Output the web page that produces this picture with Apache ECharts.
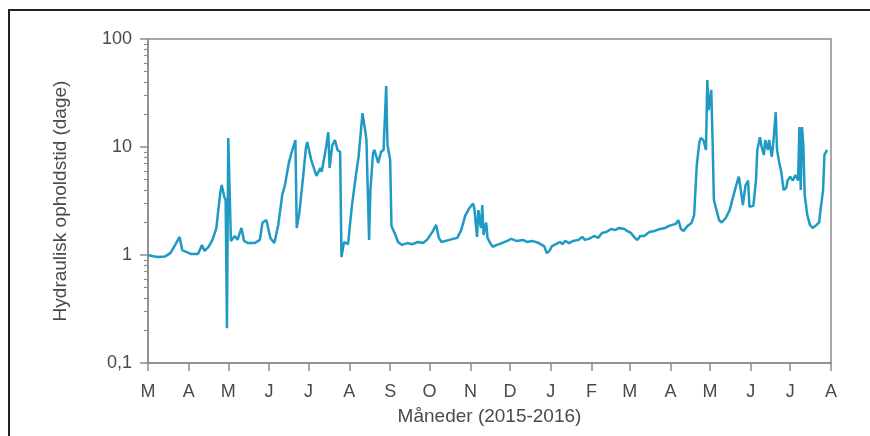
<!DOCTYPE html>
<html>
<head>
<meta charset="utf-8">
<script src="https://cdn.jsdelivr.net/npm/echarts@6/dist/echarts.min.js"></script>
<style>
  html, body { margin: 0; padding: 0; background: #ffffff; }
  #chart { width: 870px; height: 436px; }
</style>
</head>
<body>
<div id="chart"></div>
<script>
// Hydraulic residence time (days), March 2015 - July 2016
const dates = [
  '2015-03-01','2015-03-04','2015-03-08','2015-03-14','2015-03-18','2015-03-22','2015-03-25','2015-03-27','2015-03-30',
  '2015-04-03','2015-04-08','2015-04-11','2015-04-13','2015-04-16','2015-04-19','2015-04-22','2015-04-23','2015-04-25',
  '2015-04-26','2015-04-28','2015-04-29','2015-04-30','2015-05-01','2015-05-03','2015-05-06','2015-05-08','2015-05-11',
  '2015-05-13','2015-05-16','2015-05-21','2015-05-25','2015-05-27','2015-05-30','2015-06-02','2015-06-05','2015-06-08',
  '2015-06-11','2015-06-13','2015-06-16','2015-06-18','2015-06-21','2015-06-22','2015-06-24','2015-06-27','2015-06-29',
  '2015-06-30','2015-07-03','2015-07-07','2015-07-10','2015-07-11','2015-07-14','2015-07-16','2015-07-17','2015-07-19',
  '2015-07-21','2015-07-23','2015-07-25','2015-07-26','2015-07-28','2015-07-31','2015-08-03','2015-08-06','2015-08-08',
  '2015-08-11','2015-08-13','2015-08-14','2015-08-16','2015-08-17','2015-08-19','2015-08-20','2015-08-23','2015-08-25',
  '2015-08-27','2015-08-29','2015-08-30','2015-09-01','2015-09-02','2015-09-05','2015-09-07','2015-09-10','2015-09-14',
  '2015-09-18','2015-09-22','2015-09-26','2015-09-29','2015-10-03','2015-10-06','2015-10-08','2015-10-10','2015-10-16',
  '2015-10-22','2015-10-25','2015-10-28','2015-10-31','2015-11-03','2015-11-04','2015-11-06','2015-11-07','2015-11-09',
  '2015-11-10','2015-11-11','2015-11-13','2015-11-14','2015-11-16','2015-11-18','2015-11-21','2015-11-23','2015-11-29',
  '2015-12-02','2015-12-06','2015-12-11','2015-12-14','2015-12-18','2015-12-23','2015-12-27','2015-12-29','2015-12-31',
  '2016-01-02','2016-01-05','2016-01-08','2016-01-10','2016-01-12','2016-01-15','2016-01-18','2016-01-22','2016-01-25',
  '2016-01-27','2016-01-30','2016-02-03','2016-02-06','2016-02-09','2016-02-12','2016-02-16','2016-02-19','2016-02-22',
  '2016-02-26','2016-02-28','2016-03-02','2016-03-05','2016-03-07','2016-03-09','2016-03-12','2016-03-16','2016-03-20',
  '2016-03-24','2016-03-28','2016-03-31','2016-04-05','2016-04-07','2016-04-09','2016-04-11','2016-04-14','2016-04-17',
  '2016-04-19','2016-04-21','2016-04-23','2016-04-24','2016-04-26','2016-04-28','2016-04-29','2016-04-30','2016-05-02',
  '2016-05-03','2016-05-04','2016-05-06','2016-05-08','2016-05-10','2016-05-13','2016-05-16','2016-05-19','2016-05-22',
  '2016-05-23','2016-05-25','2016-05-26','2016-05-28','2016-05-30','2016-05-31','2016-06-03','2016-06-05','2016-06-06',
  '2016-06-08','2016-06-09','2016-06-11','2016-06-12','2016-06-14','2016-06-15','2016-06-17','2016-06-18','2016-06-20',
  '2016-06-21','2016-06-23','2016-06-24','2016-06-26','2016-06-28','2016-06-29','2016-07-01','2016-07-03','2016-07-05',
  '2016-07-07','2016-07-08','2016-07-09','2016-07-10','2016-07-11','2016-07-12','2016-07-14','2016-07-16','2016-07-18',
  '2016-07-21','2016-07-23','2016-07-24','2016-07-26','2016-07-27','2016-07-29'
];
const residenceDays = [
  1.00,0.98,0.96,0.97,1.04,1.26,1.47,1.11,1.07,
  1.02,1.02,1.24,1.09,1.19,1.38,1.78,2.34,3.83,
  4.45,3.44,3.23,0.21,12.1,1.35,1.50,1.38,1.78,
  1.35,1.29,1.29,1.38,2.0,2.1,1.44,1.29,1.9,
  3.6,4.4,7.1,8.8,11.6,1.78,2.45,5.5,9.8,
  11.1,7.6,5.4,6.4,5.9,9.4,13.7,6.4,10.3,
  11.6,9.4,9.0,0.96,1.32,1.26,2.9,5.5,8.1,
  20.6,14.3,11.6,1.38,4.0,8.8,9.4,7.1,9.0,
  9.4,36.7,10.4,7.6,1.86,1.53,1.32,1.24,1.29,
  1.26,1.32,1.29,1.38,1.63,1.9,1.44,1.32,1.38,
  1.44,1.7,2.3,2.7,3.0,2.7,1.47,2.6,1.78,
  2.9,1.53,2.0,1.44,1.29,1.19,1.24,1.26,1.35,
  1.41,1.35,1.38,1.32,1.35,1.29,1.21,1.04,1.09,
  1.21,1.26,1.32,1.26,1.35,1.29,1.35,1.38,1.47,
  1.38,1.41,1.50,1.44,1.60,1.63,1.74,1.70,1.78,
  1.74,1.67,1.60,1.44,1.38,1.50,1.50,1.63,1.67,
  1.74,1.78,1.86,1.94,2.1,1.74,1.67,1.86,1.98,
  2.34,6.8,11.1,12.1,11.6,9.4,41.7,22,33.8,
  11.6,3.23,2.6,2.1,2.0,2.2,2.6,3.6,4.9,
  5.3,3.6,2.9,4.4,4.9,2.8,2.85,4.9,9.4,
  12.3,10.4,8.4,11.6,9.4,11.6,8.1,10.4,21.0,
  9.4,6.8,6.1,4.0,4.2,4.9,5.3,4.9,5.5,
  4.9,15.3,4.0,15.3,10.4,3.6,2.34,1.9,1.78,
  1.9,2.0,2.6,4.0,8.4,9.4
];

// Axis ticks
const monthLetters = ['J','F','M','A','M','J','J','A','S','O','N','D'];
const monthTicks = [
  '2015-03-01','2015-04-01','2015-05-01','2015-06-01','2015-07-01','2015-08-01','2015-09-01','2015-10-01','2015-11-01',
  '2015-12-01','2016-01-01','2016-02-01','2016-03-01','2016-04-01','2016-05-01','2016-06-01','2016-07-01','2016-08-01'
];
const yMajorTicks = [0.1, 1, 10, 100];
const yMinorTicks = [0.2,0.3,0.4,0.5,0.6,0.7,0.8,0.9, 2,3,4,5,6,7,8,9, 20,30,40,50,60,70,80,90];

function toTime(s) {
  const p = s.split('-').map(Number);
  return Date.UTC(p[0], p[1] - 1, p[2]);
}
const monthTickTimes = monthTicks.map(toTime);
const seriesData = dates.map((d, i) => [toTime(d), residenceDays[i]]);

const axisGray = '#8c8c8c';
const textGray = '#4a4a4a';
const font = '"Liberation Sans", Arial, Helvetica, sans-serif';

const chart = echarts.init(document.getElementById('chart'), null, { renderer: 'canvas' });

chart.setOption({
  animation: false,
  backgroundColor: '#ffffff',
  grid: {
    left: 148, right: 39, top: 39, bottom: 73,
    show: true, borderColor: axisGray, borderWidth: 1.5, backgroundColor: 'transparent'
  },
  xAxis: {
    // day timestamps on a linear axis, ticked at the first of each month
    type: 'value',
    min: monthTickTimes[0],
    max: monthTickTimes[monthTickTimes.length - 1],
    name: 'Måneder (2015-2016)',
    nameLocation: 'middle',
    nameGap: 44,
    nameTextStyle: { color: textGray, fontSize: 19, fontFamily: font },
    axisLine: { lineStyle: { color: axisGray, width: 1.5 } },
    axisTick: { show: true, length: 8, lineStyle: { color: axisGray, width: 1.5 }, customValues: monthTickTimes },
    axisLabel: {
      color: textGray, fontSize: 18, fontFamily: font, margin: 20,
      customValues: monthTickTimes,
      formatter: v => monthLetters[new Date(v).getUTCMonth()]
    },
    splitLine: { show: false }
  },
  yAxis: [
    {
      type: 'log',
      logBase: 10,
      min: 0.1,
      max: 100,
      name: 'Hydraulisk opholdstid (dage)',
      nameLocation: 'middle',
      nameGap: 78,
      nameRotate: 90,
      nameTextStyle: { color: textGray, fontSize: 19, fontFamily: font },
      axisLine: { show: true, lineStyle: { color: axisGray, width: 1.5 } },
      axisTick: { show: true, length: 8, lineStyle: { color: axisGray, width: 1.5 }, customValues: yMajorTicks },
      axisLabel: {
        color: textGray, fontSize: 18, fontFamily: font, margin: 16,
        customValues: yMajorTicks,
        formatter: v => String(+(+v).toPrecision(3)).replace('.', ',')
      },
      splitLine: { show: false }
    },
    {
      type: 'log',
      logBase: 10,
      min: 0.1,
      max: 100,
      position: 'left',
      axisLine: { show: false },
      axisTick: { show: true, length: 4, lineStyle: { color: axisGray, width: 1.2 }, customValues: yMinorTicks },
      axisLabel: { show: false },
      splitLine: { show: false }
    }
  ],
  series: [{
    type: 'line',
    data: seriesData,
    showSymbol: false,
    symbol: 'none',
    lineStyle: { color: '#1f9ac5', width: 2.5 },
    z: 3
  }],
  graphic: [{
    type: 'polyline',
    shape: { points: [[9, 440], [9, 10], [875, 10]] },
    style: { stroke: '#222222', lineWidth: 2, fill: null },
    silent: true
  }]
});
</script>
</body>
</html>
